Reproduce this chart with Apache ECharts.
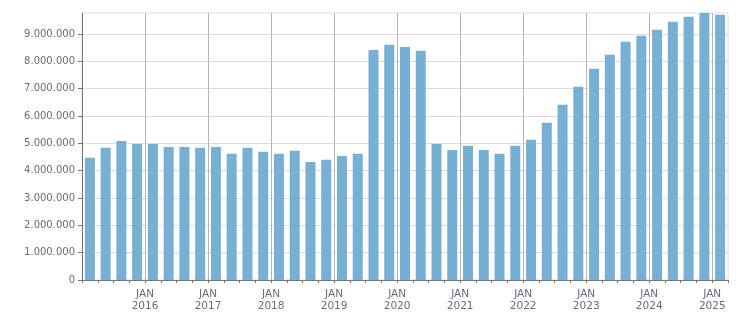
<!DOCTYPE html>
<html>
<head>
<meta charset="utf-8">
<script src="https://cdn.jsdelivr.net/npm/echarts@6/dist/echarts.min.js"></script>
<style>html,body{margin:0;padding:0;background:#fff;}#c{width:751px;height:313px;}</style>
</head>
<body>
<div id="c"></div>
<script>
const quarters = [
  "2015 Q1","2015 Q2","2015 Q3","2015 Q4",
  "2016 Q1","2016 Q2","2016 Q3","2016 Q4",
  "2017 Q1","2017 Q2","2017 Q3","2017 Q4",
  "2018 Q1","2018 Q2","2018 Q3","2018 Q4",
  "2019 Q1","2019 Q2","2019 Q3","2019 Q4",
  "2020 Q1","2020 Q2","2020 Q3","2020 Q4",
  "2021 Q1","2021 Q2","2021 Q3","2021 Q4",
  "2022 Q1","2022 Q2","2022 Q3","2022 Q4",
  "2023 Q1","2023 Q2","2023 Q3","2023 Q4",
  "2024 Q1","2024 Q2","2024 Q3","2024 Q4",
  "2025 Q1"
];
const values = [
  4470000, 4840000, 5090000, 4980000,
  4980000, 4870000, 4870000, 4840000,
  4870000, 4620000, 4840000, 4690000,
  4620000, 4730000, 4320000, 4400000,
  4540000, 4620000, 8420000, 8610000,
  8530000, 8390000, 4980000, 4760000,
  4910000, 4760000, 4620000, 4910000,
  5130000, 5750000, 6410000, 7070000,
  7730000, 8240000, 8720000, 8940000,
  9160000, 9450000, 9630000, 9770000,
  9710000
];
const yTicks = [0, 1000000, 2000000, 3000000, 4000000, 5000000, 6000000, 7000000, 8000000, 9000000];
const yearLabels = ["2016","2017","2018","2019","2020","2021","2022","2023","2024","2025"];
const monthLabel = "JAN";

const textColor = '#6a6a82';
const font = 'DejaVu Sans';

function fmtThousands(v) {
  return String(v).replace(/\B(?=(\d{3})+(?!\d))/g, '.');
}

const chart = echarts.init(document.getElementById('c'), null, {renderer: 'canvas'});
chart.setOption({
  animation: false,
  backgroundColor: '#fff',
  grid: {left: 82, right: 23, top: 13, bottom: 33, show: true, borderColor: '#dcdcdc', borderWidth: 1, backgroundColor: 'transparent'},
  xAxis: [
    {
      type: 'category',
      data: quarters,
      boundaryGap: true,
      axisLine: {show: true, lineStyle: {color: '#777', width: 1}},
      axisTick: {show: true, interval: 0, length: 3, lineStyle: {color: '#777'}},
      axisLabel: {show: false},
      splitLine: {show: false}
    },
    {
      type: 'value',
      min: 0,
      max: quarters.length,
      interval: 4,
      position: 'bottom',
      axisLine: {show: false},
      axisTick: {show: false},
      splitLine: {show: true, showMinLine: false, showMaxLine: false, lineStyle: {color: '#b4b4b4', width: 1}},
      axisLabel: {
        show: true,
        margin: 8,
        color: textColor,
        fontFamily: font,
        fontSize: 10.5,
        lineHeight: 12,
        showMinLabel: false,
        showMaxLabel: false,
        formatter: function (v) {
          if (v <= 0 || v % 4 !== 0) return '';
          const y = yearLabels[v / 4 - 1];
          return y ? monthLabel + '\n' + y : '';
        }
      }
    }
  ],
  yAxis: {
    type: 'value',
    min: 0,
    max: 'dataMax',
    interval: 1000000,
    axisLine: {show: true, lineStyle: {color: '#777', width: 1}},
    axisTick: {show: true, length: 4, customValues: yTicks, lineStyle: {color: '#777'}},
    axisLabel: {
      margin: 7,
      color: textColor,
      fontFamily: font,
      fontSize: 10,
      customValues: yTicks,
      formatter: function (v) { return fmtThousands(v); }
    },
    splitLine: {show: true, lineStyle: {color: '#dcdcdc', width: 1}}
  },
  series: [{
    type: 'bar',
    xAxisIndex: 0,
    data: values,
    barWidth: 10,
    itemStyle: {color: '#77b0d2'}
  }]
});
</script>
</body>
</html>
